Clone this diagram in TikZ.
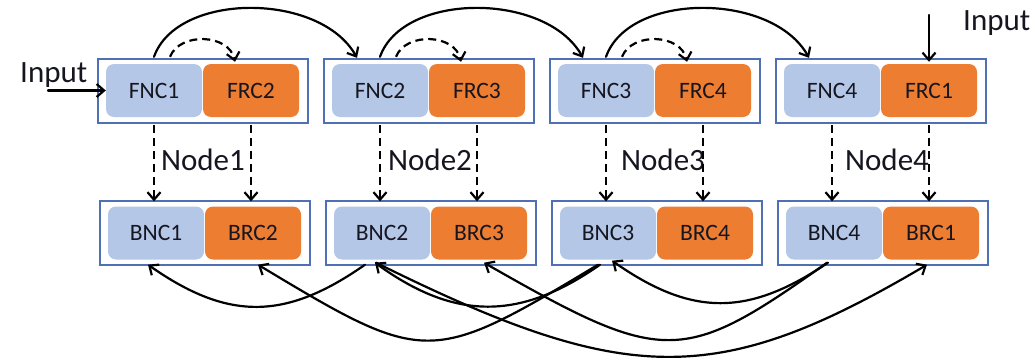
\documentclass[tikz,border=0pt]{standalone}
\usepackage{fontspec}
\setmainfont{Carlito}
\usetikzlibrary{arrows.meta,calc}
\definecolor{lblue}{RGB}{180,199,231}
\definecolor{orng}{RGB}{237,125,49}
\definecolor{boxblue}{RGB}{80,112,180}
\definecolor{txt}{RGB}{22,22,32}
\begin{document}
\begin{tikzpicture}[x=1pt,y=-1pt,
  outer/.style={draw=boxblue, fill=white, line width=1.3pt, minimum width=210pt, minimum height=64pt, inner sep=0pt},
  nbox/.style={fill=lblue, rounded corners=8pt, minimum width=96pt, minimum height=53pt, inner sep=0pt, text=txt, font=\fontsize{23.5}{23.5}\selectfont},
  rbox/.style={nbox, fill=orng},
  lbl/.style={font=\fontsize{31}{31}\selectfont, text=txt, inner sep=0pt, anchor=base},
  arr/.style={line width=2.2pt, line cap=round, -{Straight Barb[length=7.5pt,width=13pt]}},
  darr/.style={arr, line cap=butt, dash pattern=on 8pt off 5pt}]
\useasboundingbox (0,0) rectangle (1035,359);

% top row
\node[outer] (T1) at (203,91) {};
\node[nbox] (fnc1) at (154,90.5) {FNC1};
\node[rbox] (frc2) at (251,90.5) {FRC2};
\node[outer] (T2) at (429,91) {};
\node[nbox] (fnc2) at (380,90.5) {FNC2};
\node[rbox] (frc3) at (477,90.5) {FRC3};
\node[outer] (T3) at (655,91) {};
\node[nbox] (fnc3) at (606,90.5) {FNC3};
\node[rbox] (frc4) at (703,90.5) {FRC4};
\node[outer] (T4) at (881,91) {};
\node[nbox] (fnc4) at (832,90.5) {FNC4};
\node[rbox] (frc1) at (929,90.5) {FRC1};

% bottom row
\node[outer] (B1) at (205,233) {};
\node[nbox] (bnc1) at (156,233) {BNC1};
\node[rbox] (brc2) at (253,233) {BRC2};
\node[outer] (B2) at (431,233) {};
\node[nbox] (bnc2) at (382,233) {BNC2};
\node[rbox] (brc3) at (479,233) {BRC3};
\node[outer] (B3) at (657,233) {};
\node[nbox] (bnc3) at (608,233) {BNC3};
\node[rbox] (brc4) at (705,233) {BRC4};
\node[outer] (B4) at (883,233) {};
\node[nbox] (bnc4) at (834,233) {BNC4};
\node[rbox] (brc1) at (931,233) {BRC1};

% labels
\node[lbl] (lab1) at (203,170) {Node1};
\node[lbl] (lab2) at (430,170) {Node2};
\node[lbl] (lab3) at (663,170) {Node3};
\node[lbl] (lab4) at (887,170) {Node4};
\node[lbl, anchor=base west] (inL) at (20,82) {Input};
\node[lbl, anchor=base west] (inR) at (963,30) {Input};

% inputs
\coordinate (inLs) at (48,90.5);
\coordinate (inRs) at (929,15);
\draw[arr] (inLs) -- (fnc1.west);
\draw[arr] (inRs) -- ([yshift=2pt]frc1.north);

% top solid curves
\draw[arr] ([yshift=7pt]fnc1.north) .. controls +(23,-65) and +(-37,-66) .. ([xshift=-23pt,yshift=6pt]fnc2.north);
\draw[arr] ([yshift=7pt]fnc2.north) .. controls +(23,-65) and +(-37,-66) .. ([xshift=-23pt,yshift=6pt]fnc3.north);
\draw[arr] ([yshift=7pt]fnc3.north) .. controls +(23,-65) and +(-37,-66) .. ([xshift=-23pt,yshift=6pt]fnc4.north);

% top dashed curves
\draw[darr] ([xshift=16pt,yshift=7pt]fnc1.north) .. controls +(10,-25) and +(-6,-28) .. ([xshift=-16pt,yshift=2pt]frc2.north);
\draw[darr] ([xshift=16pt,yshift=7pt]fnc2.north) .. controls +(10,-25) and +(-6,-28) .. ([xshift=-16pt,yshift=2pt]frc3.north);
\draw[darr] ([xshift=16pt,yshift=7pt]fnc3.north) .. controls +(10,-25) and +(-6,-28) .. ([xshift=-16pt,yshift=2pt]frc4.north);

% vertical dashed arrows
\foreach \a/\b/\c in {fnc1/bnc1/B1, frc2/brc2/B1, fnc2/bnc2/B2, frc3/brc3/B2, fnc3/bnc3/B3, frc4/brc4/B3, fnc4/bnc4/B4, frc1/brc1/B4}{
  \draw[darr] ($(\a.south)+(0,8)$) -- ($(\a.south |- \c.north)+(0,1)$);
}

% bottom curves
\draw[arr] ([xshift=-17pt,yshift=-5pt]bnc2.south) .. controls +(-80,56) and +(80,56) .. ([xshift=-8pt,yshift=-5pt]bnc1.south);
\draw[arr] ([xshift=-8pt,yshift=-5pt]bnc3.south) .. controls +(-80,56) and +(80,58) .. ([xshift=-7pt,yshift=-3pt]bnc2.south);
\draw[arr] ([xshift=-6pt,yshift=-3pt]bnc4.south) .. controls +(-80,54) and +(80,56) .. ([xshift=4pt,yshift=-1pt]bnc3.south);
\draw[arr] ([xshift=-10pt,yshift=-5pt]bnc3.south) .. controls +(-168,101) and +(168,101) .. ([xshift=5pt,yshift=-5pt]brc2.south);
\draw[arr] ([xshift=-7pt,yshift=-3pt]bnc4.south) .. controls +(-145,103) and +(180,103) .. ([xshift=5pt,yshift=-3pt]brc3.south);
\draw[arr] ([xshift=-6pt,yshift=-3pt]bnc2.south) .. controls +(250,124) and +(-210,124) .. ([xshift=-4pt,yshift=-5pt]brc1.south);
\end{tikzpicture}
\end{document}
